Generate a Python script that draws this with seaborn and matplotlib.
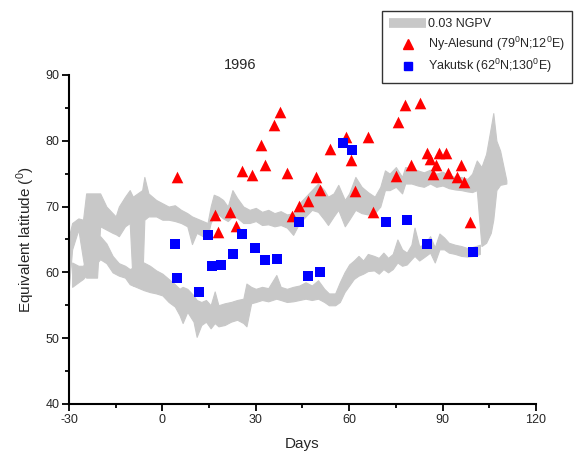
import matplotlib
matplotlib.use("Agg")
import matplotlib.pyplot as plt
from matplotlib.lines import Line2D
import seaborn as sns
import pandas as pd
import numpy as np

# 0.03 NGPV contour, upper (vortex edge) strip: day, top, bottom
upper_days = [-30, -29, -27, -25.5, -24.5, -21, -20, -18, -16, -15, -14, -12, -10.5,
              -9.5, -6.5, -5.8, -4.5, -2, 0, 2, 4, 6, 8, 9.5, 11, 13, 14.5, 15.5,
              16.5, 18, 19.5, 21, 22.5, 24, 26, 28, 30, 32, 34, 36, 38, 40, 42, 44,
              46, 48, 50, 52, 53.2, 55, 56.5, 58.6, 60, 62, 64, 66, 68.2, 70, 71.5,
              73, 75, 77, 78, 80, 82, 84, 86, 88, 90, 92, 94, 96, 98, 99.5, 101,
              102.5, 104, 105.5, 106.3, 107.3, 108.5, 110.5]
upper_top = [65.5, 67.5, 68.2, 68.0, 72.0, 72.0, 72.0, 70.0, 69.0, 68.5, 70.0, 71.5, 72.5,
             71.5, 72.5, 74.5, 72.0, 71.0, 70.5, 70.0, 70.2, 69.5, 69.0, 68.5, 68.2, 67.8,
             67.5, 70.0, 71.8, 71.5, 71.0, 70.0, 72.5, 71.3, 70.0, 69.5, 69.8, 69.2, 69.5,
             69.0, 69.3, 68.8, 69.0, 70.5, 71.5, 72.5, 73.5, 72.5, 71.5, 72.0, 73.3, 71.0,
             72.0, 74.5, 73.0, 72.2, 71.5, 73.0, 75.5, 75.0, 76.0, 74.5, 76.0, 75.8, 75.5,
             75.2, 75.6, 75.0, 75.3, 74.8, 74.5, 74.5, 74.2, 75.0, 77.0, 76.0, 78.0, 82.0,
             84.2, 80.0, 78.5, 74.0]
upper_bottom = [58.0, 63.5, 66.5, 62.0, 59.2, 59.2, 67.0, 66.5, 66.0, 65.8, 65.5, 67.0, 67.5,
                58.0, 58.0, 68.0, 68.5, 68.5, 68.0, 68.0, 67.8, 67.5, 67.0, 64.3, 66.0, 65.5,
                65.5, 67.5, 68.5, 68.8, 68.2, 67.8, 68.5, 68.3, 67.5, 67.5, 67.8, 67.2, 67.3,
                67.0, 67.2, 66.8, 65.7, 67.5, 68.5, 69.5, 69.2, 68.0, 67.2, 68.5, 69.5, 67.0,
                68.0, 69.5, 69.0, 68.8, 69.0, 70.0, 72.5, 72.5, 73.0, 72.0, 73.5, 73.5, 73.2,
                73.0, 73.5, 73.0, 73.2, 72.8, 72.6, 72.5, 72.3, 72.2, 72.5, 64.0, 64.5, 66.0,
                68.0, 72.5, 73.3, 73.5]

# lower strip: day, top, bottom
lower_days = [-29, -27, -25.5, -20, -18, -16, -14, -12, -10.5, -6, -4, -2, 0, 2, 4, 5.5,
              6.5, 8, 10, 11, 12.5, 14, 15.5, 16.8, 18, 20, 22, 24, 26, 27, 28.5, 30, 32,
              34, 36.6, 38, 40, 42, 44, 46, 48, 50, 52, 53.5, 55.5, 57, 58.5, 60, 61.5, 63,
              64.5, 66, 68, 69.5, 71, 72.5, 74, 75.5, 77, 78.5, 80, 81, 82.5, 84, 86, 87.5,
              89, 90.5, 92, 94, 96, 98, 100, 102]
lower_top = [61.5, 61.0, 61.0, 65.5, 64.4, 62.5, 61.4, 61.0, 60.5, 61.5, 61.0, 60.3, 59.8,
             59.0, 58.2, 57.5, 57.8, 57.5, 56.5, 55.8, 55.5, 55.8, 55.0, 57.1, 55.0, 55.3,
             55.5, 55.8, 56.0, 58.3, 57.8, 57.5, 57.8, 57.6, 59.6, 57.8, 57.5, 57.8, 58.0,
             58.5, 58.0, 58.8, 57.5, 56.8, 56.8, 58.5, 60.0, 61.2, 61.8, 62.5, 61.8, 62.8,
             62.5, 62.2, 63.0, 62.2, 62.8, 65.0, 63.5, 63.0, 64.2, 66.8, 64.0, 64.2, 65.5,
             63.8, 65.9, 65.3, 64.5, 64.2, 64.0, 63.7, 63.9, 64.2]
lower_bottom = [57.8, 58.5, 59.0, 62.0, 61.4, 60.0, 59.5, 59.2, 58.2, 57.3, 57.0, 56.8, 56.5,
                55.5, 54.8, 53.5, 52.3, 54.0, 52.5, 50.2, 52.0, 52.5, 51.5, 52.3, 51.8, 52.0,
                52.5, 52.8, 52.3, 51.8, 55.3, 55.5, 55.8, 55.6, 56.0, 55.8, 55.5, 55.6, 55.8,
                56.0, 55.8, 56.0, 55.5, 55.0, 55.0, 55.5, 57.0, 58.0, 59.0, 59.5, 59.8, 60.2,
                60.3, 59.8, 60.5, 60.0, 60.5, 61.5, 61.0, 61.2, 62.0, 62.5, 61.8, 62.3, 63.0,
                61.5, 63.5, 63.5, 63.0, 62.8, 62.5, 62.4, 62.5, 62.8]

# Ny-Alesund (79N;12E)
ny_days = [4.7, 37.7, 35.8, 31.8, 32.9, 25.7, 28.7, 39.9, 49.5, 50.6, 16.8, 21.8, 23.8,
           17.9, 43.8, 46.8, 41.7, 77.9, 82.9, 75.7, 59.1, 65.9, 53.8, 60.7, 61.8, 67.8,
           80.0, 74.9, 84.9, 86.0, 88.8, 91.0, 87.8, 86.8, 91.8, 95.9, 94.8, 96.8, 98.8]
ny_lat = [74.5, 84.3, 82.4, 79.4, 76.3, 75.4, 74.8, 75.1, 74.5, 72.5, 68.7, 69.2, 67.1,
          66.1, 70.1, 70.9, 68.6, 85.4, 85.8, 82.8, 80.6, 80.5, 78.7, 77.0, 72.4, 69.2,
          76.3, 74.7, 78.1, 77.2, 78.1, 78.1, 76.3, 75.0, 75.1, 76.3, 74.5, 73.8, 67.6]

# Yakutsk (62N;130E)
yk_days = [4.0, 14.7, 25.7, 43.8, 22.7, 29.9, 4.8, 11.8, 15.8, 18.8, 32.9, 36.8, 46.8,
           50.6, 57.9, 61.0, 71.9, 78.7, 84.9, 99.8]
yk_lat = [64.3, 65.7, 65.9, 67.6, 62.75, 63.7, 59.1, 57.0, 61.0, 61.1, 61.9, 62.0, 59.4,
          60.1, 79.7, 78.6, 67.7, 68.0, 64.3, 63.1]

band_color = "#c8c8c8"

sns.set_style("ticks")
plt.rcParams["font.family"] = ["Liberation Sans", "DejaVu Sans"]
plt.rcParams["mathtext.fontset"] = "custom"
plt.rcParams["mathtext.rm"] = "Liberation Sans"
plt.rcParams["axes.unicode_minus"] = False

fig = plt.figure(figsize=(5.8, 4.57), dpi=100)
ax = fig.add_axes([0.119, 0.116, 0.805, 0.72])

ax.fill_between(upper_days, upper_bottom, upper_top, color=band_color, lw=0.8,
                edgecolor=band_color, zorder=1)
ax.fill_between(lower_days, lower_bottom, lower_top, color=band_color, lw=0.8,
                edgecolor=band_color, zorder=1)

ny = pd.DataFrame({"Days": ny_days, "Lat": ny_lat})
yk = pd.DataFrame({"Days": yk_days, "Lat": yk_lat})
sns.scatterplot(data=ny, x="Days", y="Lat", marker="^", color="#ff0000", s=70,
                linewidth=0, ax=ax, zorder=3)
sns.scatterplot(data=yk, x="Days", y="Lat", marker="s", color="#0000ff", s=42,
                linewidth=0, ax=ax, zorder=3)

ax.set_xlim(-30, 120)
ax.set_ylim(40, 90)
ax.set_xticks(np.arange(-30, 121, 30))
ax.set_xticks(np.arange(-15, 120, 30), minor=True)
ax.set_yticks(np.arange(40, 91, 10))
ax.set_yticks(np.arange(45, 90, 10), minor=True)
ax.tick_params(which="major", direction="out", length=5, width=1.3, labelsize=9,
               color="black", pad=2)
ax.tick_params(which="minor", direction="out", length=3, width=1.3, color="black")
for side in ["left", "bottom"]:
    ax.spines[side].set_linewidth(1.5)
    ax.spines[side].set_color("black")
sns.despine(ax=ax)

ax.set_xlabel("Days", fontsize=11, labelpad=8)
ax.set_ylabel(r"Equivalent latitude ($^0$)", fontsize=11, labelpad=6)
ax.text(25, 90.4, "1996", ha="center", va="bottom", fontsize=10.5)

handles = [
    Line2D([], [], color=band_color, lw=7, solid_capstyle="butt"),
    Line2D([], [], marker="^", color="#ff0000", ls="none", markersize=7),
    Line2D([], [], marker="s", color="#0000ff", ls="none", markersize=5.5),
]
labels = ["0.03 NGPV", r"Ny-Alesund (79$^0$N;12$^0$E)", r"Yakutsk (62$^0$N;130$^0$E)"]
leg = fig.legend(handles, labels, loc="upper right", bbox_to_anchor=(0.997, 0.99),
                 fontsize=9, frameon=True, fancybox=False, edgecolor="black",
                 handlelength=2.9, handletextpad=0.15, borderpad=0.6, labelspacing=0.35)
leg.get_frame().set_linewidth(1.0)

fig.savefig("out.png", dpi=100)
